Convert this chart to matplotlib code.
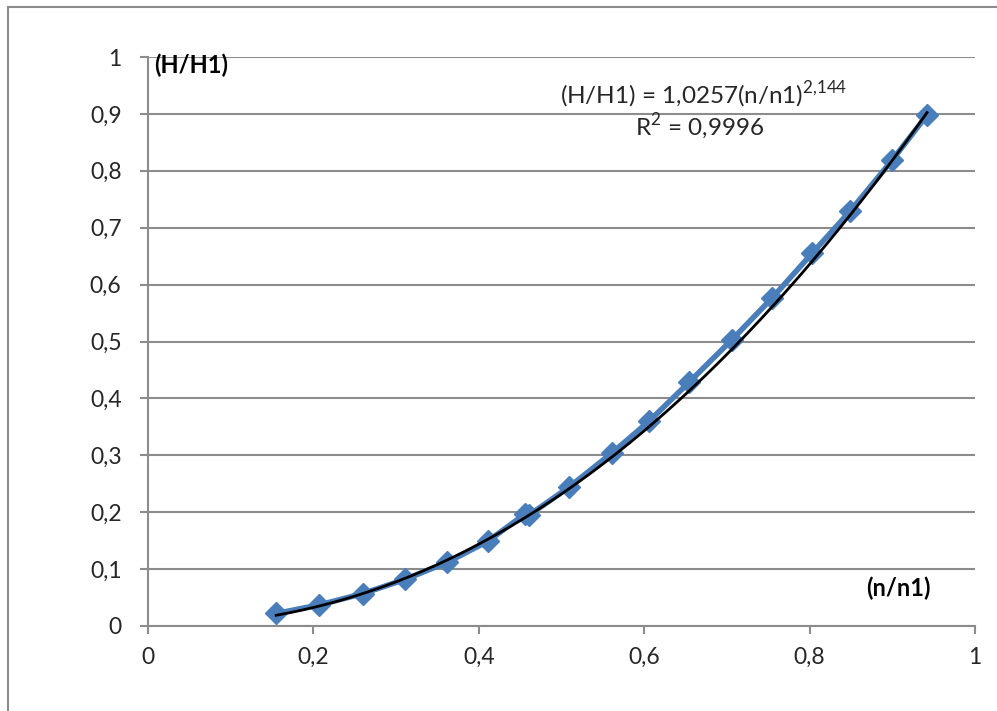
import numpy as np
import matplotlib.pyplot as plt
from matplotlib.ticker import FuncFormatter
from matplotlib.patches import Rectangle

# measured points (n/n1, H/H1)
n_ratio = [0.155, 0.207, 0.260, 0.311, 0.362, 0.411, 0.456, 0.461, 0.509,
           0.561, 0.606, 0.654, 0.706, 0.755, 0.803, 0.849, 0.900, 0.942]
h_ratio = [0.022, 0.037, 0.057, 0.082, 0.112, 0.149, 0.197, 0.195, 0.244,
           0.304, 0.360, 0.428, 0.503, 0.577, 0.655, 0.729, 0.819, 0.898]

# power trendline from the chart
coef_a = 1.0257
coef_b = 2.144
r_squared = "0,9996"

plt.rcParams['font.family'] = ['Lato', 'DejaVu Sans']
plt.rcParams['mathtext.fontset'] = 'custom'
plt.rcParams['mathtext.rm'] = 'Lato'

fig = plt.figure(figsize=(9.97, 7.11), dpi=100)
fig.patches.append(Rectangle((8 / 997, -0.1), 1.2, 1 - 7 / 711 + 0.1,
                             transform=fig.transFigure, fill=False,
                             edgecolor='#8c8c8c', linewidth=1.5))
ax = fig.add_axes([148 / 997, 1 - 626 / 711, 827 / 997, 569 / 711])

grid_col = '#8c8c8c'
ax.set_xlim(0, 1)
ax.set_ylim(0, 1)
ax.set_xticks(np.arange(0, 1.01, 0.2))
ax.set_yticks(np.arange(0, 1.01, 0.1))
ax.yaxis.grid(True, color=grid_col, linewidth=1.5)
ax.set_axisbelow(True)

fmt = FuncFormatter(lambda v, p: ('%g' % round(v, 2)).replace('.', ','))
ax.xaxis.set_major_formatter(fmt)
ax.yaxis.set_major_formatter(fmt)

for s in ['top', 'right']:
    ax.spines[s].set_visible(False)
for s in ['left', 'bottom']:
    ax.spines[s].set_color(grid_col)
    ax.spines[s].set_linewidth(1.5)
ax.tick_params(colors=grid_col, width=1.5, length=6, labelcolor='#262626',
               labelsize=16.5)
ax.tick_params(axis='x', pad=9)
ax.tick_params(axis='y', pad=13)

ax.plot(n_ratio, h_ratio, color='#4a7ebb', linewidth=4, marker='D',
        markersize=11, markeredgecolor='#4a7ebb', zorder=3)

xs = np.linspace(min(n_ratio), max(n_ratio), 200)
ax.plot(xs, coef_a * xs ** coef_b, color='black', linewidth=2, zorder=4)

ax.text(0.008, 0.985, '(H/H1)', fontsize=17, fontweight='bold',
        ha='left', va='center')
ax.text(0.907, 0.067, '(n/n1)', fontsize=17, fontweight='bold',
        ha='center', va='center')
ax.text(0.672, 0.933, r'(H/H1) = 1,0257(n/n1)$^{\mathregular{2{,}144}}$',
        fontsize=17.5, ha='center', va='center', color='#262626')
ax.text(0.667, 0.877, r'R$^{\mathregular{2}}$ = ' + r_squared,
        fontsize=17.5, ha='center', va='center', color='#262626')

fig.savefig('out.png', dpi=100)
